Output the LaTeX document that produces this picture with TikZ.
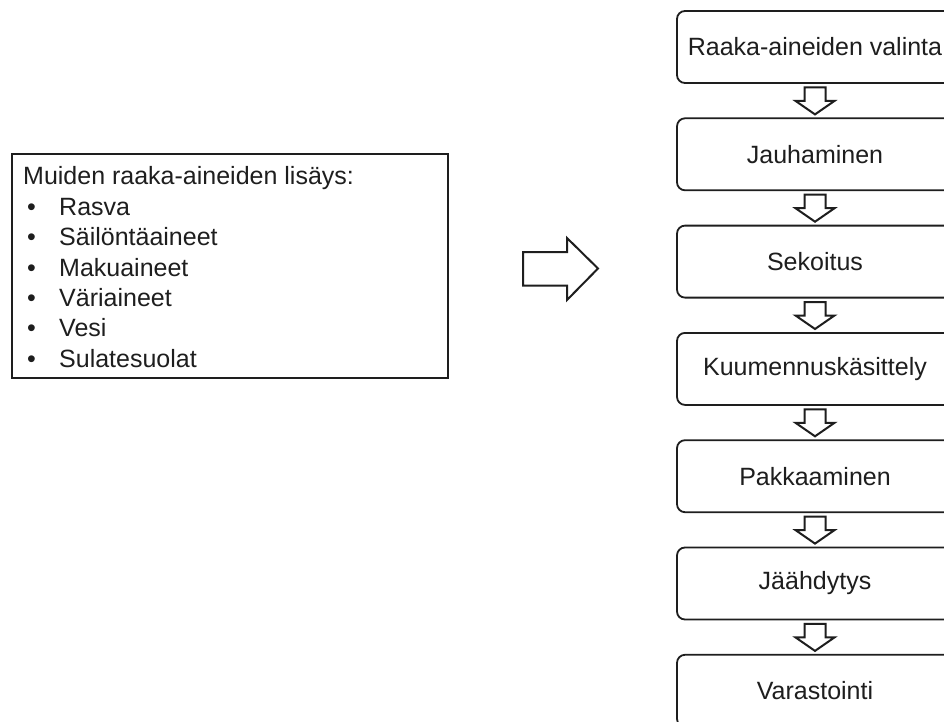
\documentclass[tikz,border=0pt]{standalone}
\usepackage{fontspec}
\setmainfont{Liberation Sans}
\usetikzlibrary{calc}
\definecolor{ink}{HTML}{1E1E1E}
\tikzset{
  stepbox/.style={draw=ink, line width=1.8pt, rounded corners=8pt, minimum width=276pt, minimum height=72pt, inner sep=0pt, font=\fontsize{25}{29}\selectfont, text=ink},
  listline/.style={anchor=base west, inner sep=0pt, font=\fontsize{25}{29}\selectfont, text=ink},
  blockarrow/.style={draw=ink, line width=2pt, fill=white, line join=miter}
}
\begin{document}
\begin{tikzpicture}[x=1pt,y=-1pt]
\useasboundingbox (0,0) rectangle (944,722);
\clip (0,0) rectangle (944,722);
\fill[white] (0,0) rectangle (944,722);
% process chain
\node[stepbox] (s1) at (815,47) {Raaka-aineiden valinta};
\node[stepbox] (s2) at (815,154.3) {Jauhaminen};
\node[stepbox] (s3) at (815,261.6) {Sekoitus};
\node[stepbox] (s4) at (815,368.9) {Kuumennuskäsittely};
\node[stepbox] (s5) at (815,476.2) {Pakkaaminen};
\node[stepbox] (s6) at (815,583.5) {Jäähdytys};
\node[stepbox] (s7) at (815,690.8) {Varastointi};
% down block arrows
\foreach \a/\b in {s1/s2,s2/s3,s3/s4,s4/s5,s5/s6,s6/s7}{
  \draw[blockarrow]
    ($(\a.south)+(-10.5,3.5)$) -- ($(\a.south)+(10.5,3.5)$) -- ($(\a.south)+(10.5,17)$)
    -- ($(\a.south)+(19.5,17)$) -- ($(\b.north)+(0,-3)$) -- ($(\a.south)+(-19.5,17)$)
    -- ($(\a.south)+(-10.5,17)$) -- cycle;
}
% left box
\draw[draw=ink, line width=2.2pt] (12,154) rectangle (448,378);
\node[listline] (l0) at (23,185) {Muiden raaka-aineiden lisäys:};
\node[listline] (l1) at (27,215.5) {•};
\node[listline] (i1) at (59,215.5) {Rasva};
\node[listline] (l2) at (27,245.8) {•};
\node[listline] (i2) at (59,245.8) {Säilöntäaineet};
\node[listline] (l3) at (27,276) {•};
\node[listline] (i3) at (59,276) {Makuaineet};
\node[listline] (l4) at (27,306.3) {•};
\node[listline] (i4) at (59,306.3) {Väriaineet};
\node[listline] (l5) at (27,336.6) {•};
\node[listline] (i5) at (59,336.6) {Vesi};
\node[listline] (l6) at (27,367) {•};
\node[listline] (i6) at (59,367) {Sulatesuolat};
% right block arrow
\draw[blockarrow] (523,252) -- (567,252) -- (567,238) -- (598,268.5) -- (567,300) -- (567,285.5) -- (523,285.5) -- cycle;
\end{tikzpicture}
\end{document}
